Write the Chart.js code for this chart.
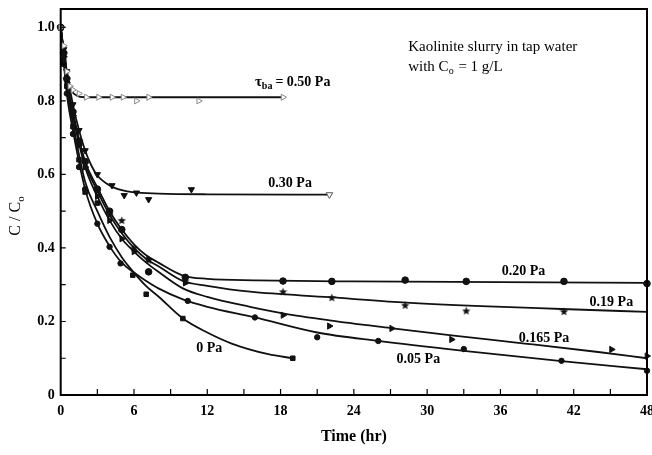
<!DOCTYPE html>
<html><head><meta charset="utf-8">
<script src="https://cdn.jsdelivr.net/npm/chart.js@4/dist/chart.umd.min.js"></script>
<style>html,body{margin:0;padding:0;background:#fff}#wrap{width:652px;height:455px}</style>
</head><body><div id="wrap"><canvas id="c" width="652" height="455"></canvas></div>
<script>
// ---- axis ticks ----
const tAxisTicks = [0, 6, 12, 18, 24, 30, 36, 42, 48];
const tMinorTicks = [3, 6, 9, 12, 15, 18, 21, 24, 27, 30, 33, 36, 39, 42, 45];
const cAxisTicks = [0, 0.2, 0.4, 0.6, 0.8, 1.0];
const cMinorTicks = [0.1, 0.2, 0.3, 0.4, 0.5, 0.6, 0.7, 0.8, 0.9, 1.0];

// ---- fitted curves (time hr, C/Co) ----
const fitT_050 = [0, 0.4, 0.8, 1.3, 2, 5, 10, 18.2];
const fitC_050 = [1.0, 0.9, 0.835, 0.815, 0.81, 0.81, 0.81, 0.81];
const fitT_030 = [0, 0.5, 1, 1.5, 2, 2.5, 3, 4, 5, 6, 8, 12, 22];
const fitC_030 = [1.0, 0.88, 0.79, 0.72, 0.665, 0.625, 0.597, 0.57, 0.557, 0.551, 0.548, 0.546, 0.545];
const fitT_020 = [0, 0.5, 1, 2, 3, 4, 5, 6, 7, 8, 10, 12, 16, 24, 36, 48];
const fitC_020 = [1.0, 0.86, 0.77, 0.635, 0.565, 0.5, 0.45, 0.41, 0.38, 0.36, 0.325, 0.316, 0.312, 0.309, 0.307, 0.305];
const fitT_019 = [0, 0.5, 1, 2, 3, 4, 5, 6, 7, 8, 10, 12, 15.5, 22, 28, 35, 41, 48];
const fitC_019 = [1.0, 0.86, 0.765, 0.63, 0.555, 0.49, 0.44, 0.4, 0.37, 0.35, 0.31, 0.297, 0.281, 0.266, 0.252, 0.241, 0.234, 0.226];
const fitT_0165 = [0, 0.5, 1, 2, 3, 4, 5, 6, 7, 8, 10, 12, 15.5, 18.2, 22, 27, 32, 38, 44, 48];
const fitC_0165 = [1.0, 0.85, 0.76, 0.62, 0.54, 0.475, 0.425, 0.39, 0.36, 0.335, 0.29, 0.267, 0.24, 0.222, 0.203, 0.182, 0.162, 0.14, 0.117, 0.1];
const fitT_005 = [0, 0.5, 1, 2, 3, 4, 5, 6, 7, 8, 10, 12, 15.9, 21, 26, 33, 41, 48];
const fitC_005 = [1.0, 0.82, 0.72, 0.56, 0.466, 0.405, 0.36, 0.333, 0.31, 0.29, 0.26, 0.24, 0.211, 0.17, 0.147, 0.12, 0.092, 0.07];
const fitT_0 = [0, 0.5, 1, 2, 3, 4, 5, 6, 7, 8, 10, 12, 14, 17, 19];
const fitC_0 = [1.0, 0.84, 0.74, 0.58, 0.5, 0.43, 0.375, 0.333, 0.296, 0.268, 0.208, 0.17, 0.14, 0.111, 0.1];

// ---- measured points ----
const ptT_050 = [0, 0.25, 0.5, 0.75, 1, 1.5, 2.1, 3.1, 4.2, 5.1, 6.2, 7.2, 11.3, 18.2];
const ptC_050 = [1.0, 0.95, 0.88, 0.84, 0.83, 0.82, 0.81, 0.81, 0.81, 0.81, 0.80, 0.81, 0.80, 0.81];
const ptT_030 = [0, 0.25, 0.5, 0.75, 1, 1.5, 2, 3, 4.2, 5.2, 6.2, 7.2, 10.7];
const ptC_030 = [1.0, 0.94, 0.88, 0.83, 0.79, 0.72, 0.665, 0.6, 0.57, 0.543, 0.55, 0.532, 0.559];
const ptT_030open = [22];
const ptC_030open = [0.545];
const ptT_020 = [0, 0.25, 0.5, 1, 1.5, 2, 3, 4, 5, 7.2, 10.2, 18.2, 22.2, 28.2, 33.2, 41.2, 48];
const ptC_020 = [1.0, 0.93, 0.86, 0.77, 0.69, 0.635, 0.56, 0.5, 0.45, 0.335, 0.32, 0.31, 0.309, 0.3125, 0.309, 0.309, 0.303];
const ptT_019 = [0, 0.25, 0.5, 1, 1.5, 2, 3, 4, 5, 6, 7.2, 10.2, 18.2, 22.2, 28.2, 33.2, 41.2];
const ptC_019 = [1.0, 0.93, 0.86, 0.77, 0.69, 0.63, 0.555, 0.49, 0.475, 0.4, 0.367, 0.31, 0.281, 0.265, 0.244, 0.229, 0.227];
const ptT_0165 = [0, 0.25, 0.5, 1, 1.5, 2, 3, 4, 5, 6, 7.2, 10.2, 18.2, 22, 27.1, 32, 45.1, 48];
const ptC_0165 = [1.0, 0.92, 0.85, 0.76, 0.68, 0.62, 0.54, 0.475, 0.425, 0.39, 0.37, 0.305, 0.217, 0.1875, 0.181, 0.151, 0.124, 0.106];
const ptT_005 = [0, 0.25, 0.5, 1, 1.5, 2, 3, 4, 4.9, 7.2, 10.4, 15.9, 21, 26, 33, 41, 48];
const ptC_005 = [1.0, 0.9, 0.82, 0.71, 0.62, 0.56, 0.466, 0.403, 0.358, 0.335, 0.256, 0.211, 0.157, 0.147, 0.125, 0.093, 0.066];
const ptT_0 = [0, 0.25, 0.5, 1, 1.5, 2, 3, 5.9, 7, 10, 19];
const ptC_0 = [1.0, 0.91, 0.84, 0.73, 0.64, 0.552, 0.522, 0.326, 0.274, 0.208, 0.1];

// ---- text annotations (data coords: left edge time, centre C) ----
const curveLabels = [
  {t: 17.0, c: 0.576, text: '0.30 Pa'},
  {t: 36.1, c: 0.335, text: '0.20 Pa'},
  {t: 43.3, c: 0.251, text: '0.19 Pa'},
  {t: 37.5, c: 0.154, text: '0.165 Pa'},
  {t: 27.5, c: 0.097, text: '0.05 Pa'},
  {t: 11.1, c: 0.127, text: '0 Pa'}
];
const tauLabel = {t: 15.9, c: 0.85};
const noteLabel = {t: 28.45, c1: 0.946, c2: 0.892};

const zip = (ts, cs) => ts.map((t, i) => ({x: t, y: cs[i]}));
const SERIF = '"Liberation Serif", "Times New Roman", serif';

// filled five-point star marker
const starImg = document.createElement('canvas');
starImg.width = 9; starImg.height = 9;
(function () {
  const g = starImg.getContext('2d');
  g.fillStyle = '#111';
  g.beginPath();
  for (let i = 0; i < 10; i++) {
    const r = i % 2 === 0 ? 4.4 : 1.9;
    const ang = -Math.PI / 2 + i * Math.PI / 5;
    const px = 4.5 + r * Math.cos(ang), py = 4.8 + r * Math.sin(ang);
    if (i === 0) g.moveTo(px, py); else g.lineTo(px, py);
  }
  g.closePath();
  g.fill();
})();

function fitDs(ts, cs) {
  return {type: 'line', data: zip(ts, cs), borderColor: '#111', borderWidth: 1.8,
    pointRadius: 0, fill: false, cubicInterpolationMode: 'monotone', order: 2};
}
function ptDs(ts, cs, style, rot, r, bg, bc, bw) {
  return {type: 'scatter', data: zip(ts, cs), showLine: false, pointStyle: style,
    rotation: rot, pointRadius: r, backgroundColor: bg, borderColor: bc, borderWidth: bw,
    clip: 6, order: 1};
}

const datasets = [
  fitDs(fitT_050, fitC_050), fitDs(fitT_030, fitC_030), fitDs(fitT_020, fitC_020),
  fitDs(fitT_019, fitC_019), fitDs(fitT_0165, fitC_0165), fitDs(fitT_005, fitC_005),
  fitDs(fitT_0, fitC_0),
  ptDs(ptT_050, ptC_050, 'triangle', 90, 3.5, '#fff', '#888', 1),
  ptDs(ptT_030, ptC_030, 'triangle', 180, 3.6, '#111', '#111', 1),
  ptDs(ptT_030open, ptC_030open, 'triangle', 180, 3.8, '#fff', '#555', 1),
  ptDs(ptT_020, ptC_020, 'circle', 0, 3.3, '#111', '#111', 1),
  ptDs(ptT_019, ptC_019, starImg, 0, 4, '#111', '#111', 1),
  ptDs(ptT_0165, ptC_0165, 'triangle', 90, 3.6, '#111', '#111', 1),
  ptDs(ptT_005, ptC_005, 'circle', 0, 2.7, '#111', '#111', 1),
  ptDs(ptT_0, ptC_0, 'rect', 0, 3.2, '#111', '#111', 1)
];

const overlay = {
  id: 'overlay',
  afterDraw(chart) {
    const {ctx, chartArea: a, scales: {x, y}} = chart;
    ctx.save();
    ctx.strokeStyle = '#000';
    ctx.lineWidth = 2;
    ctx.strokeRect(a.left, a.top, a.right - a.left, a.bottom - a.top);
    ctx.lineWidth = 1.2;
    ctx.beginPath();
    for (const v of tMinorTicks) { const px = x.getPixelForValue(v); ctx.moveTo(px, a.bottom); ctx.lineTo(px, a.bottom - 6); }
    for (const v of cMinorTicks) { const py = y.getPixelForValue(v); ctx.moveTo(a.left, py); ctx.lineTo(a.left + 5, py); }
    ctx.stroke();

    ctx.fillStyle = '#000';
    ctx.textBaseline = 'middle';
    ctx.textAlign = 'left';
    ctx.font = 'bold 14px ' + SERIF;
    for (const L of curveLabels) ctx.fillText(L.text, x.getPixelForValue(L.t), y.getPixelForValue(L.c));

    // tau label
    let px = x.getPixelForValue(tauLabel.t), py = y.getPixelForValue(tauLabel.c);
    ctx.font = 'bold 15px ' + SERIF;
    ctx.fillText('\u03C4', px, py); px += ctx.measureText('\u03C4').width;
    ctx.font = 'bold 10px ' + SERIF;
    ctx.fillText('ba', px, py + 4); px += ctx.measureText('ba').width + 3;
    ctx.font = 'bold 14px ' + SERIF;
    ctx.fillText('= 0.50 Pa', px, py);

    // note
    ctx.font = '15px ' + SERIF;
    px = x.getPixelForValue(noteLabel.t);
    ctx.fillText('Kaolinite slurry in tap water', px, y.getPixelForValue(noteLabel.c1));
    py = y.getPixelForValue(noteLabel.c2);
    ctx.fillText('with C', px, py); let px2 = px + ctx.measureText('with C').width;
    ctx.font = '10px ' + SERIF;
    ctx.fillText('o', px2, py + 4); px2 += ctx.measureText('o').width + 1;
    ctx.font = '15px ' + SERIF;
    ctx.fillText(' = 1 g/L', px2, py);

    // axis titles
    ctx.font = 'bold 16px ' + SERIF;
    ctx.textAlign = 'center';
    ctx.fillText('Time (hr)', (a.left + a.right) / 2, 437);

    ctx.translate(16, 216);
    ctx.rotate(-Math.PI / 2);
    ctx.font = '16px ' + SERIF;
    ctx.textAlign = 'left';
    const s = 'C / C';
    const w1 = ctx.measureText(s).width;
    ctx.font = '11px ' + SERIF;
    const w2 = ctx.measureText('o').width;
    const start = -(w1 + w2) / 2;
    ctx.font = '16px ' + SERIF;
    ctx.fillText(s, start, 0);
    ctx.font = '11px ' + SERIF;
    ctx.fillText('o', start + w1, 5);
    ctx.restore();
  }
};

new Chart(document.getElementById('c'), {
  data: {datasets},
  options: {
    responsive: false, animation: false, devicePixelRatio: 1,
    layout: {padding: {left: 0, right: 4.7, top: 9, bottom: 0}},
    plugins: {legend: {display: false}, tooltip: {enabled: false}},
    scales: {
      x: {type: 'linear', min: 0, max: 48,
        grid: {display: false, drawTicks: false}, border: {display: false},
        ticks: {color: '#000', padding: 8, maxRotation: 0, autoSkip: false,
          font: {family: SERIF, size: 14, weight: 'bold'}},
        afterBuildTicks: s => { s.ticks = tAxisTicks.map(v => ({value: v})); },
        afterFit: s => { s.height = 60; s.paddingLeft = 0; s.paddingRight = 0; }
      },
      y: {type: 'linear', min: 0, max: 1.05,
        grid: {display: false, drawTicks: false}, border: {display: false},
        ticks: {color: '#000', padding: 6, autoSkip: false,
          font: {family: SERIF, size: 14, weight: 'bold'},
          callback: v => v === 0 ? '0' : Number(v).toFixed(1)},
        afterBuildTicks: s => { s.ticks = cAxisTicks.map(v => ({value: v})); },
        afterFit: s => { s.width = 60.7; s.paddingTop = 0; s.paddingBottom = 0; }
      }
    }
  },
  plugins: [overlay]
});
</script>
</body></html>
